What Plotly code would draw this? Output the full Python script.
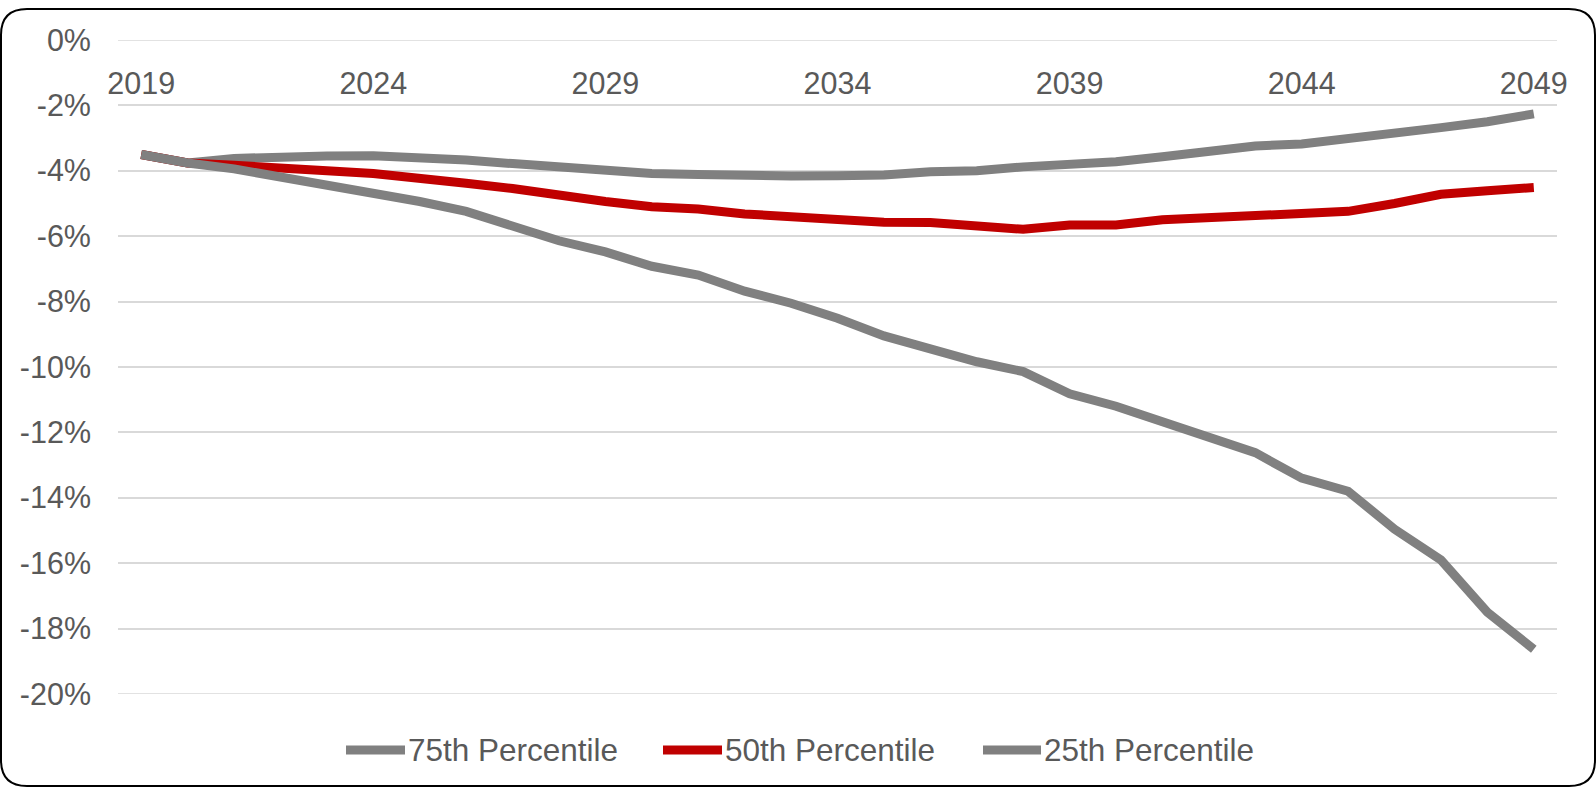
import plotly.graph_objects as go

# Projected change by year, in percent
years = list(range(2019, 2050))
series_names = ["75th Percentile", "50th Percentile", "25th Percentile"]
series_colors = ["#808080", "#C00000", "#808080"]

p75 = [-3.5, -3.76, -3.62, -3.57, -3.55, -3.54, -3.59, -3.67, -3.78, -3.88,
       -3.94, -4.08, -4.11, -4.16, -4.16, -4.15, -4.13, -4.03, -4.0, -3.88,
       -3.82, -3.72, -3.57, -3.41, -3.24, -3.18, -3.03, -2.85, -2.68, -2.5, -2.26]
p50 = [-3.5, -3.76, -3.83, -3.89, -4.0, -4.08, -4.21, -4.38, -4.54, -4.75,
       -4.94, -5.1, -5.17, -5.32, -5.4, -5.47, -5.57, -5.58, -5.69, -5.79,
       -5.66, -5.66, -5.5, -5.42, -5.38, -5.3, -5.24, -5.0, -4.72, -4.61, -4.51]
p25 = [-3.5, -3.76, -3.94, -4.2, -4.43, -4.65, -4.94, -5.24, -5.71, -6.14,
       -6.48, -6.92, -7.19, -7.68, -8.05, -8.51, -9.05, -9.46, -9.84, -10.14,
       -10.82, -11.2, -11.68, -12.16, -12.62, -13.4, -13.8, -14.96, -15.9, -17.5, -18.63]
series_values = [p75, p50, p25]

x_tickvals = [2019, 2024, 2029, 2034, 2039, 2044, 2049]
y_tickvals = [0, -2, -4, -6, -8, -10, -12, -14, -16, -18, -20]
y_ticktext = ["0%", "-2%", "-4%", "-6%", "-8%", "-10%", "-12%", "-14%", "-16%", "-18%", "-20%"]

W, H = 1596, 787
L, R, T, B = 118, 1557, 40, 694
FONT = "Liberation Sans, Arial, sans-serif"
TEXT = "#595959"
GRID = "#d9d9d9"


def px(x):
    return (x - L) / (R - L)


def py(y):
    return (B - y) / (B - T)


fig = go.Figure()
for name, vals, color in zip(series_names, series_values, series_colors):
    fig.add_trace(go.Scatter(
        x=years, y=vals, mode="lines", name=name,
        line=dict(color=color, width=9), showlegend=False,
    ))

# Gridlines on the two edge ticks of the value axis
shapes = []
for v in (y_tickvals[0], y_tickvals[-1]):
    shapes.append(dict(type="line", xref="paper", yref="y", x0=0, x1=1, y0=v, y1=v,
                       line=dict(color=GRID, width=1.5), layer="below"))

# Rounded frame around the whole chart
x0, x1, y0, y1, r = 1, 1595, 9, 786, 26
frame = (
    f"M {px(x0 + r)} {py(y0)} L {px(x1 - r)} {py(y0)} "
    f"Q {px(x1)} {py(y0)} {px(x1)} {py(y0 + r)} "
    f"L {px(x1)} {py(y1 - r)} Q {px(x1)} {py(y1)} {px(x1 - r)} {py(y1)} "
    f"L {px(x0 + r)} {py(y1)} Q {px(x0)} {py(y1)} {px(x0)} {py(y1 - r)} "
    f"L {px(x0)} {py(y0 + r)} Q {px(x0)} {py(y0)} {px(x0 + r)} {py(y0)} Z"
)
shapes.append(dict(type="path", xref="paper", yref="paper", path=frame,
                   line=dict(color="#000000", width=2), layer="above"))

# Legend row beneath the plot
legend_y = 750
legend_items = [(346, 405), (663, 722), (983, 1041)]
annotations = []
for (lx0, lx1), name, color in zip(legend_items, series_names, series_colors):
    shapes.append(dict(type="line", xref="paper", yref="paper",
                       x0=px(lx0), x1=px(lx1), y0=py(legend_y), y1=py(legend_y),
                       line=dict(color=color, width=9)))
    annotations.append(dict(xref="paper", yref="paper", x=px(lx1 + 1), y=py(legend_y),
                            xanchor="left", yanchor="middle", text=name, showarrow=False,
                            font=dict(family=FONT, size=31.5, color=TEXT)))

fig.update_layout(
    width=W, height=H,
    margin=dict(l=L, r=W - R, t=T, b=H - B),
    paper_bgcolor="#ffffff", plot_bgcolor="#ffffff",
    font=dict(family=FONT, size=30, color=TEXT),
    shapes=shapes, annotations=annotations,
    showlegend=False,
    xaxis=dict(
        range=[2018.5, 2049.5], tickvals=x_tickvals, ticktext=[str(v) for v in x_tickvals],
        showgrid=False, zeroline=False, showline=False,
        anchor="free", position=1, side="bottom",
        ticks="", ticklabelstandoff=22,
        tickfont=dict(family=FONT, size=30.5, color=TEXT),
    ),
    yaxis=dict(
        range=[-20, 0], tickvals=y_tickvals, ticktext=y_ticktext,
        showgrid=True, gridcolor=GRID, gridwidth=1.5,
        zeroline=False, showline=False, ticks="", ticklabelstandoff=26,
        tickfont=dict(family=FONT, size=30.5, color=TEXT),
    ),
)

fig.write_html("out.html")
